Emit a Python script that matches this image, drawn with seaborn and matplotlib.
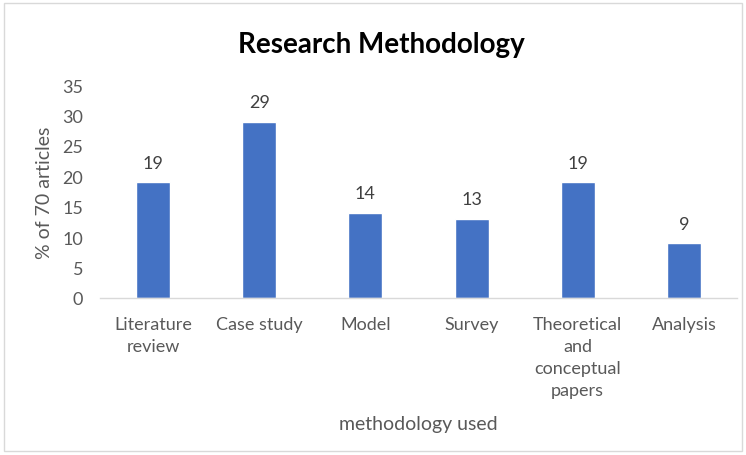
import matplotlib
matplotlib.use("Agg")
import matplotlib.pyplot as plt
import seaborn as sns
import pandas as pd
from matplotlib.patches import Rectangle

categories = ["Literature\nreview", "Case study", "Model", "Survey",
              "Theoretical\nand\nconceptual\npapers", "Analysis"]
values = [19, 29, 14, 13, 19, 9]
yticks = [0, 5, 10, 15, 20, 25, 30, 35]

sns.set_style("white")
plt.rcParams['font.family'] = ['Lato', 'DejaVu Sans']

df = pd.DataFrame({"cat": categories, "val": values})

fig = plt.figure(figsize=(7.46, 4.56), dpi=100)
ax = fig.add_axes([100/746, 1-299/456, 637/746, (299-86)/456])
sns.barplot(data=df, x="cat", y="val", color="#4472C4", width=0.32,
            saturation=1, ax=ax)
ax.set_ylim(0, 35)
ax.set_xlim(-0.5, 5.5)
ax.set_yticks(yticks)
ax.tick_params(axis="both", length=0, colors="#595959", labelsize=13)
ax.tick_params(axis="y", pad=12)
ax.tick_params(axis="x", pad=13)
for lab in ax.get_xticklabels():
    lab.set_verticalalignment("top")
    lab.set_multialignment("center")
    lab.set_linespacing(1.45)
for s in ["top", "right", "left"]:
    ax.spines[s].set_visible(False)
ax.spines["bottom"].set_color("#D9D9D9")
ax.spines["bottom"].set_linewidth(1)

for p, v in zip(ax.patches, values):
    ax.annotate(str(v), (p.get_x() + p.get_width()/2, p.get_height()),
                xytext=(0, 14), textcoords="offset points",
                ha="center", va="center", fontsize=13, color="#404040")

ax.set_ylabel("% of 70 articles", fontsize=14, color="#595959")
ax.set_xlabel("methodology used", fontsize=14, color="#595959")
ax.xaxis.set_label_coords(418/746, 1-425/456, transform=fig.transFigure)
ax.xaxis.label.set_verticalalignment("center")
ax.yaxis.set_label_coords(45/746, 1-193/456, transform=fig.transFigure)
ax.yaxis.label.set_verticalalignment("center")

fig.text(381/746, 1-45/456, "Research Methodology", ha="center", va="center",
         fontsize=20, fontweight="bold", color="#000000")

fig.patches.append(Rectangle((4/746, 4/456), 738/746, 448/456,
                             transform=fig.transFigure, fill=False,
                             edgecolor="#D9D9D9", linewidth=1))

fig.savefig("out.png", dpi=100)
